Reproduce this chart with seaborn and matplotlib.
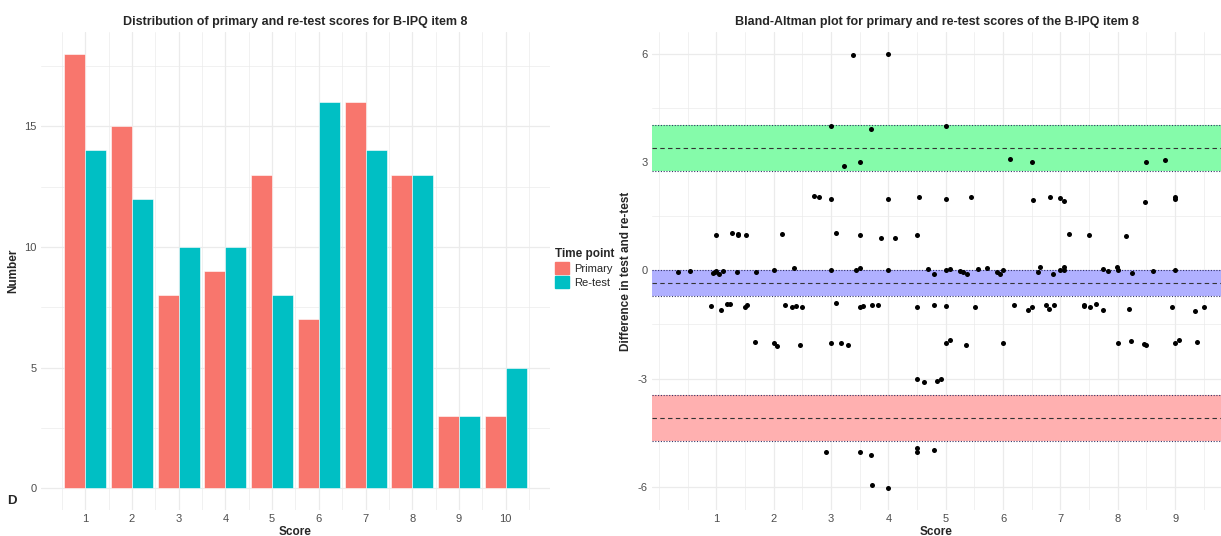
import numpy as np
import pandas as pd
import matplotlib
matplotlib.use("Agg")
import matplotlib.pyplot as plt
from matplotlib.ticker import FixedLocator
import seaborn as sns

# =========================
# DATA
# =========================

scores = [1, 2, 3, 4, 5, 6, 7, 8, 9, 10]
primary_counts = [18, 15, 8, 9, 13, 7, 16, 13, 3, 3]
retest_counts = [14, 12, 10, 10, 8, 16, 14, 13, 3, 5]
time_points = ["Primary", "Re-test"]

# Bland-Altman: mean of the two scores (x) and the difference (y)
ba_mean = [
    3.38, 4.00, 3.00, 3.70, 5.00, 3.22, 3.50, 6.13, 6.51, 8.50, 8.83,
    2.71, 2.79, 3.00, 4.00, 4.54, 5.00, 5.44, 6.53, 6.82, 7.00, 7.07, 8.48, 8.99, 9.00,
    1.00, 1.27, 1.38, 1.38, 1.51, 2.15, 3.08, 3.50, 3.87, 4.12, 4.50, 7.15, 7.50, 8.15,
    0.34, 0.54, 0.94, 0.98, 1.00, 1.04, 1.12, 1.37, 1.70, 2.00, 2.35, 3.00, 3.43, 3.51,
    4.00, 4.70, 4.80, 5.00, 5.07, 5.25, 5.31, 5.38, 5.56, 5.72, 5.90, 5.94, 6.00, 6.61,
    6.64, 6.87, 7.00, 7.06, 7.06, 7.75, 7.83, 7.98, 8.00, 8.25, 8.62, 9.00,
    0.91, 1.08, 1.19, 1.24, 1.50, 1.53, 2.19, 2.32, 2.39, 2.50, 3.08, 3.50, 3.56, 3.71,
    3.82, 4.50, 4.80, 5.00, 5.51, 6.19, 6.43, 6.51, 6.75, 6.80, 6.89, 7.41, 7.42, 7.51,
    7.62, 7.74, 8.20, 8.95, 9.35, 9.50,
    1.67, 2.00, 2.06, 2.46, 3.00, 3.17, 3.29, 5.00, 5.07, 5.35, 6.00, 8.00, 8.23, 8.45,
    8.49, 9.00, 9.06, 9.39,
    4.50, 4.62, 4.84, 4.91,
    2.92, 3.50, 3.70, 4.50, 4.50, 4.79,
    3.72, 4.00,
]
ba_diff = [
    5.97, 6.00, 4.01, 3.91, 4.01, 2.90, 3.00, 3.09, 3.00, 3.00, 3.07,
    2.07, 2.04, 1.99, 1.99, 2.04, 1.99, 2.04, 1.94, 2.02, 2.01, 1.93, 1.90, 1.99, 2.02,
    0.98, 1.03, 0.97, 1.02, 0.99, 1.02, 1.04, 0.99, 0.89, 0.89, 0.98, 1.00, 0.99, 0.95,
    -0.05, -0.01, -0.06, -0.05, -0.02, -0.10, -0.03, -0.05, -0.05, 0.00, 0.06, 0.00, 0.00, 0.07,
    0.00, 0.04, -0.10, 0.00, 0.04, -0.02, -0.05, -0.10, 0.04, 0.07, -0.05, -0.10, 0.00, -0.05,
    0.08, -0.10, 0.00, 0.08, 0.00, 0.04, -0.03, 0.08, 0.00, -0.06, -0.02, 0.00,
    -1.00, -1.09, -0.94, -0.94, -1.01, -0.97, -0.95, -1.01, -0.99, -1.01, -0.91, -1.01, -0.99, -0.97,
    -0.97, -1.01, -0.95, -0.99, -1.01, -0.95, -1.10, -1.01, -0.95, -1.08, -0.95, -0.95, -0.99, -1.01,
    -0.92, -1.10, -1.06, -1.01, -1.12, -1.01,
    -1.99, -2.02, -2.09, -2.08, -2.02, -2.00, -2.06, -2.02, -1.93, -2.06, -2.02, -2.02, -1.95, -2.03,
    -2.07, -2.02, -1.93, -1.98,
    -3.01, -3.09, -3.06, -3.02,
    -5.02, -5.03, -5.11, -4.91, -5.04, -4.99,
    -5.94, -6.04,
]

# mean difference and limits of agreement, each with its confidence interval
bias = -0.35
bias_ci = [-0.71, 0.00]
upper_loa = 3.40
upper_ci = [2.76, 4.04]
lower_loa = -4.08
lower_ci = [-4.72, -3.46]

# =========================
# STYLE
# =========================

sns.set_theme(style="white")
plt.rcParams["font.family"] = ["Liberation Sans", "DejaVu Sans"]
plt.rcParams["axes.unicode_minus"] = False

grid_col = "#EBEBEB"
tick_col = "#4D4D4D"
palette = {"Primary": "#F8766D", "Re-test": "#00BFC4"}

fig = plt.figure(figsize=(12.21, 5.36), dpi=100)
ax1 = fig.add_axes([0.0336, 0.0485, 0.4168, 0.8915])
ax2 = fig.add_axes([0.534, 0.0485, 0.466, 0.8915])


def minimal(ax):
    for s in ax.spines.values():
        s.set_visible(False)
    ax.grid(True, which="major", color=grid_col, linewidth=0.9)
    ax.grid(True, which="minor", color=grid_col, linewidth=0.5)
    ax.set_axisbelow(True)
    ax.tick_params(which="both", length=0, labelsize=8, labelcolor=tick_col, pad=3)


# ---------------------------------
# 1. Bar chart of score distribution
# ---------------------------------

bar_df = pd.DataFrame({
    "Score": scores * 2,
    "Number": primary_counts + retest_counts,
    "Time point": ["Primary"] * len(scores) + ["Re-test"] * len(scores),
})

sns.barplot(
    data=bar_df, x="Score", y="Number", hue="Time point",
    hue_order=time_points, palette=palette, native_scale=True, saturation=1,
    width=0.9, gap=0, edgecolor="white", linewidth=0.4, ax=ax1, legend=False
)

ax1.set_xlim(0.055, 10.945)
ax1.set_ylim(-0.9, 18.9)
ax1.xaxis.set_major_locator(FixedLocator(scores))
ax1.xaxis.set_minor_locator(FixedLocator(np.arange(0.5, 11, 1.0)))
ax1.yaxis.set_major_locator(FixedLocator([0, 5, 10, 15]))
ax1.yaxis.set_minor_locator(FixedLocator([2.5, 7.5, 12.5, 17.5]))
minimal(ax1)
ax1.set_xlabel("Score", fontsize=8.5, fontweight="bold", labelpad=1)
ax1.set_ylabel("Number", fontsize=8.5, fontweight="bold", labelpad=4)
ax1.set_title("Distribution of primary and re-test scores for B-IPQ item 8",
              fontsize=9, fontweight="bold", pad=5)

handles = [plt.Rectangle((0, 0), 1, 1, color=palette[t]) for t in time_points]
leg = fig.legend(handles, time_points, title="Time point", loc="center left",
                 bbox_to_anchor=(0.446, 0.5), frameon=False, fontsize=8,
                 title_fontsize=8.5, handlelength=1.3, handleheight=1.3,
                 handletextpad=0.5, labelspacing=0.2, alignment="left")
leg.get_title().set_fontweight("bold")

fig.text(0.006, 0.065, "D", fontsize=9.5, fontweight="bold", ha="left", va="center")

# ---------------------------------
# 2. Bland-Altman plot
# ---------------------------------

bands = [
    (upper_loa, upper_ci, "#85FBAA"),
    (bias, bias_ci, "#B0B0FF"),
    (lower_loa, lower_ci, "#FFB0B0"),
]
for centre, ci, col in bands:
    ax2.axhspan(ci[0], ci[1], color=col, zorder=1, linewidth=0)
    ax2.axhline(ci[0], color="#333366", linestyle=(0, (1, 1.5)), linewidth=0.8, zorder=2)
    ax2.axhline(ci[1], color="#333366", linestyle=(0, (1, 1.5)), linewidth=0.8, zorder=2)
    ax2.axhline(centre, color="#333333", linestyle=(0, (4, 3)), linewidth=0.8, zorder=2)

ba_df = pd.DataFrame({"mean": ba_mean, "diff": ba_diff})
sns.scatterplot(data=ba_df, x="mean", y="diff", color="black", s=13,
                linewidth=0, ax=ax2, zorder=3)

ax2.set_xlim(-0.12, 9.80)
ax2.set_ylim(-6.64, 6.6)
ax2.xaxis.set_major_locator(FixedLocator(range(1, 10)))
ax2.xaxis.set_minor_locator(FixedLocator(np.concatenate([[0.0], np.arange(0.5, 10, 1.0)])))
ax2.yaxis.set_major_locator(FixedLocator([-6, -3, 0, 3, 6]))
ax2.yaxis.set_minor_locator(FixedLocator([-4.5, -1.5, 1.5, 4.5]))
minimal(ax2)
ax2.set_xlabel("Score", fontsize=8.5, fontweight="bold", labelpad=1)
ax2.set_ylabel("Difference in test and re-test", fontsize=8.5, fontweight="bold", labelpad=4)
ax2.set_title("Bland-Altman plot for primary and re-test scores of the B-IPQ item 8",
              fontsize=9, fontweight="bold", pad=5)

fig.savefig("out.png", dpi=100, facecolor="white")
